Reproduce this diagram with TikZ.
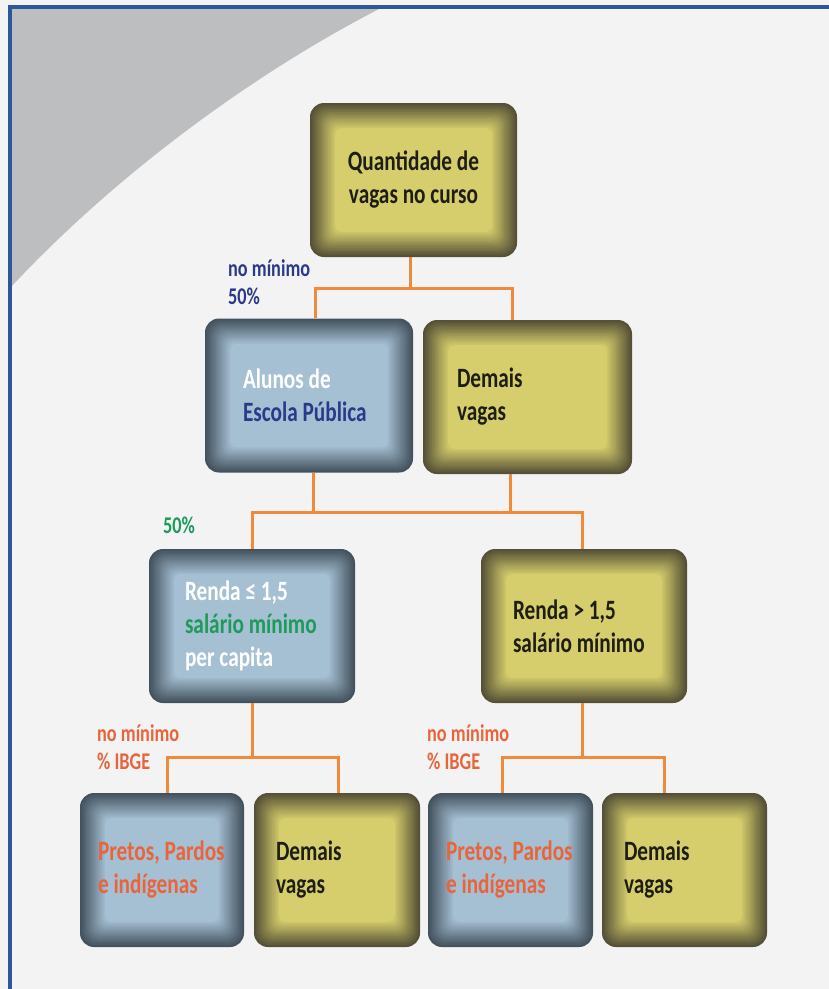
\documentclass[tikz,border=0pt]{standalone}
\usepackage{fontspec}
\setmainfont{Carlito}[FakeStretch=0.76]
\usetikzlibrary{calc,positioning}

\definecolor{bgcol}{HTML}{F3F3F3}
\definecolor{wedgecol}{HTML}{BDBEC0}
\definecolor{framecol}{HTML}{2F559A}
\definecolor{yelfill}{HTML}{D6CE6C}
\definecolor{yeledge}{HTML}{555037}
\definecolor{bluefill}{HTML}{A6C0D3}
\definecolor{blueedge}{HTML}{43525E}
\definecolor{txtdark}{HTML}{1E1E14}
\definecolor{txtblue}{HTML}{2A3A8A}
\definecolor{txtgreen}{HTML}{1E9A5A}
\definecolor{txtorange}{HTML}{E8653C}
\definecolor{linkorange}{HTML}{EF8A3A}

\tikzset{
  glow/.style 2 args={fill=#2, path picture={
      \foreach \k in {1,...,14}{
        \pgfmathtruncatemacro\mixv{\k*100/14}
        \pgfmathsetmacro\rr{max(14-\k*0.6,4)}
        \fill[#1!\mixv!#2, rounded corners=\rr pt]
          ([shift={(\k*1.8,-\k*1.8)}]path picture bounding box.south west)
          rectangle ([shift={(-\k*1.8,\k*1.8)}]path picture bounding box.north east);
      }}},
  cell/.style={rounded corners=14pt, minimum height=154pt, inner sep=0pt,
    align=flush left, font=\bfseries\fontsize{28}{33}\selectfont},
  ycell/.style={cell, glow={yelfill}{yeledge}, text=txtdark},
  bcell/.style={cell, glow={bluefill}{blueedge}, text=white},
  lbl/.style={inner sep=0pt, align=flush left, anchor=north west,
    font=\bfseries\fontsize{24}{28}\selectfont},
  link/.style={draw=linkorange, line width=3pt}
}

\begin{document}
\begin{tikzpicture}[x=1pt,y=-1pt]
  \useasboundingbox (0,0) rectangle (829,989);
  % background and frame
  \fill[bgcol] (0,0) rectangle (829,989);
  \fill[wedgecol] (10,8) -- (381,8) .. controls (260,70) and (120,170) .. (10,288) -- cycle;
  \fill[framecol] (8,5) rectangle (829,9);
  \fill[framecol] (8,5) rectangle (12,989);

  % boxes
  \node[ycell, minimum width=207pt, align=center] (qtd) at (413.5,180) {Quantidade de\\vagas no curso};

  \node[bcell, minimum width=208pt, text width=132pt] (alunos) at (309,395.5)
    {Alunos~de\\{\color{txtblue}Escola~Pública}};
  \node[ycell, minimum width=209pt, text width=141pt] (demais1) at (527.5,397) {Demais\\vagas};

  \node[bcell, minimum width=206pt, text width=134pt] (rendaA) at (252,626)
    {Renda~≤~1,5\\{\color{txtgreen}salário~mínimo}\\per~capita};
  \node[ycell, minimum width=206pt, text width=142pt] (rendaB) at (584,626)
    {Renda~>~1,5\\salário~mínimo};

  \node[bcell, minimum width=164pt, text width=128pt, text=txtorange] (ppiA) at (162,870)
    {Pretos,~Pardos\\e~indígenas};
  \node[ycell, minimum width=166pt, text width=122pt] (demais2) at (337,870) {Demais\\vagas};
  \node[bcell, minimum width=165pt, text width=129pt, text=txtorange] (ppiB) at (510.5,870)
    {Pretos,~Pardos\\e~indígenas};
  \node[ycell, minimum width=165pt, text width=121pt] (demais3) at (684.5,870) {Demais\\vagas};

  % labels
  \node[lbl, text=txtblue] (minA) at (228,259) {no~mínimo\\50\%};
  \node[lbl, text=txtgreen] (pctB) at (163,517) {50\%};
  \node[lbl, text=txtorange] (minC) at (97,724) {no~mínimo\\\%~IBGE};
  \node[lbl, text=txtorange] (minD) at (427,724) {no~mínimo\\\%~IBGE};

  % links
  \draw[link] ([xshift=-3pt]qtd.south) -- ++(0,31) coordinate (j1);
  \draw[link] ([xshift=6pt]alunos.north) |- (j1) -| ([xshift=-15pt]demais1.north);

  \draw[link] (rendaA.north) -- ++(0,-36) coordinate (j2) -| ([xshift=-2pt]rendaB.north);
  \draw[link] ([xshift=4pt]alunos.south) -- ([xshift=4pt]alunos.south |- j2);
  \draw[link] ([xshift=-17pt]demais1.south) -- ([xshift=-17pt]demais1.south |- j2);

  \draw[link] (rendaA.south) -- ++(0,54) coordinate (j3);
  \draw[link] ([xshift=5pt]ppiA.north) |- (j3) -| ([xshift=1pt]demais2.north);
  \draw[link] ([xshift=-2pt]rendaB.south) -- ++(0,54) coordinate (j4);
  \draw[link] ([xshift=-8pt]ppiB.north) |- (j4) -| ([xshift=-20pt]demais3.north);
\end{tikzpicture}
\end{document}
